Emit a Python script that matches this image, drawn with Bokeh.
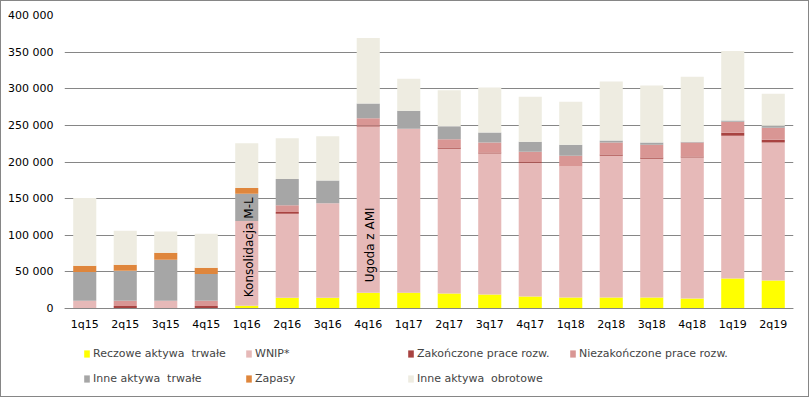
import math
from bokeh.plotting import figure
from bokeh.models import ColumnDataSource, FixedTicker, Legend, LegendItem, FactorRange
from bokeh.core.properties import value
from bokeh.embed import file_html
from bokeh.resources import INLINE

categories = ["1q15", "2q15", "3q15", "4q15", "1q16", "2q16", "3q16", "4q16", "1q17",
              "2q17", "3q17", "4q17", "1q18", "2q18", "3q18", "4q18", "1q19", "2q19"]

reczowe = [0, 0, 0, 0, 3700, 14600, 14600, 21400, 21600, 20500, 19100, 16400, 15000, 15000, 15000, 13600, 41000, 38200]
wnip = [10500, 0, 10500, 0, 115900, 114600, 129000, 227100, 223900, 197700, 192500, 182700, 178700, 193700, 189600, 192400, 195000, 188300]
zakonczone = [0, 3500, 0, 3500, 0, 2700, 0, 1400, 0, 1500, 1500, 800, 0, 1400, 1400, 1400, 4000, 4000]
niezakonczone = [0, 7000, 0, 7000, 0, 8900, 0, 9800, 0, 11300, 13600, 14200, 15000, 16400, 17700, 19100, 15100, 16400]
inne_trwale = [39500, 40900, 56000, 36500, 36900, 36100, 31300, 20300, 24500, 17800, 13700, 13700, 15000, 2700, 2800, 1300, 1400, 2700]
zapasy = [8200, 8200, 9500, 8500, 8100, 0, 0, 0, 0, 0, 0, 0, 0, 0, 0, 0, 0, 0]
inne_obrotowe = [92800, 46400, 29000, 46500, 60900, 55400, 60100, 89200, 43700, 49100, 61200, 61400, 58600, 80600, 77800, 88700, 95000, 43700]

series_names = ["Reczowe aktywa  trwałe", "WNIP*", "Zakończone prace rozw.", "Niezakończone prace rozw.",
                "Inne aktywa  trwałe", "Zapasy", "Inne aktywa  obrotowe"]
colors = ["#FFFF00", "#E6B9B8", "#A84341", "#D99694", "#A6A6A6", "#DF863C", "#EEECE1"]

y_ticks = [0, 50000, 100000, 150000, 200000, 250000, 300000, 350000, 400000]
y_tick_labels = ["0", "50 000", "100 000", "150 000", "200 000", "250 000", "300 000", "350 000", "400 000"]

annot_cats = ["1q16", "4q16"]
annot_texts = ["Konsolidacja M-L", "Ugoda z AMI"]
annot_y = [15400, 35900]

keys = ["s0", "s1", "s2", "s3", "s4", "s5", "s6"]
data = dict(cat=categories, s0=reczowe, s1=wnip, s2=zakonczone, s3=niezakonczone,
            s4=inne_trwale, s5=zapasy, s6=inne_obrotowe)
source = ColumnDataSource(data)

FONT = "DejaVu Sans"
GRID = "#868686"

# frame extends below the value axis so the legend can sit inside it
Y_MAX = 400000
FRAME_H = 381
PX_PER_VALUE_SPAN = 293
y_min = Y_MAX - FRAME_H * Y_MAX / PX_PER_VALUE_SPAN

p = figure(frame_width=729, frame_height=FRAME_H, x_range=FactorRange(*categories, range_padding=0),
           y_range=(y_min, Y_MAX), output_backend="svg", toolbar_location=None,
           min_border_left=63, min_border_right=15, min_border_top=14, min_border_bottom=0)
p.styles = {"border": "1px solid #868686"}
p.outline_line_color = None
p.background_fill_color = "white"
p.border_fill_color = "white"

renderers = p.vbar_stack(keys, x="cat", width=0.57, source=source, color=colors, line_color=None)

p.xgrid.grid_line_color = None
p.ygrid.grid_line_color = GRID
p.ygrid.grid_line_width = 1
p.yaxis.ticker = FixedTicker(ticks=y_ticks)
p.ygrid.ticker = FixedTicker(ticks=y_ticks)
p.yaxis.major_label_overrides = {t: l for t, l in zip(y_ticks, y_tick_labels)}
p.yaxis.axis_line_color = None
p.yaxis.major_tick_line_color = None
p.yaxis.minor_tick_line_color = None
p.yaxis.major_tick_out = 0
p.yaxis.major_label_standoff = 11
p.yaxis.major_label_text_font = FONT
p.yaxis.major_label_text_font_size = "11px"
p.yaxis.major_label_text_color = "#000000"

p.xaxis.fixed_location = 0
p.xaxis.axis_line_color = GRID
p.xaxis.major_tick_line_color = None
p.xaxis.minor_tick_line_color = None
p.xaxis.major_tick_out = 0
p.xaxis.major_tick_in = 0
p.xaxis.major_label_standoff = 9
p.xaxis.major_label_text_font = FONT
p.xaxis.major_label_text_font_size = "11px"
p.xaxis.major_label_text_color = "#000000"

p.text(x=annot_cats, y=annot_y, text=annot_texts, angle=math.pi / 2, x_offset=2,
       text_align="left", text_baseline="middle", text_font=value(FONT),
       text_font_size="12px", text_color="#000000")

items = [LegendItem(label=n, renderers=[r]) for n, r in zip(series_names, renderers)]
legend = Legend(items=items, location=(19, 10), orientation="horizontal", ncols=4,
                glyph_width=7, glyph_height=9, label_standoff=3, label_width=142,
                label_height=15, spacing=10, padding=0, margin=0,
                label_text_font=FONT, label_text_font_size="11px",
                background_fill_alpha=0, border_line_color=None)
p.add_layout(legend, "center")

open("out.html", "w").write(file_html(p, INLINE))
